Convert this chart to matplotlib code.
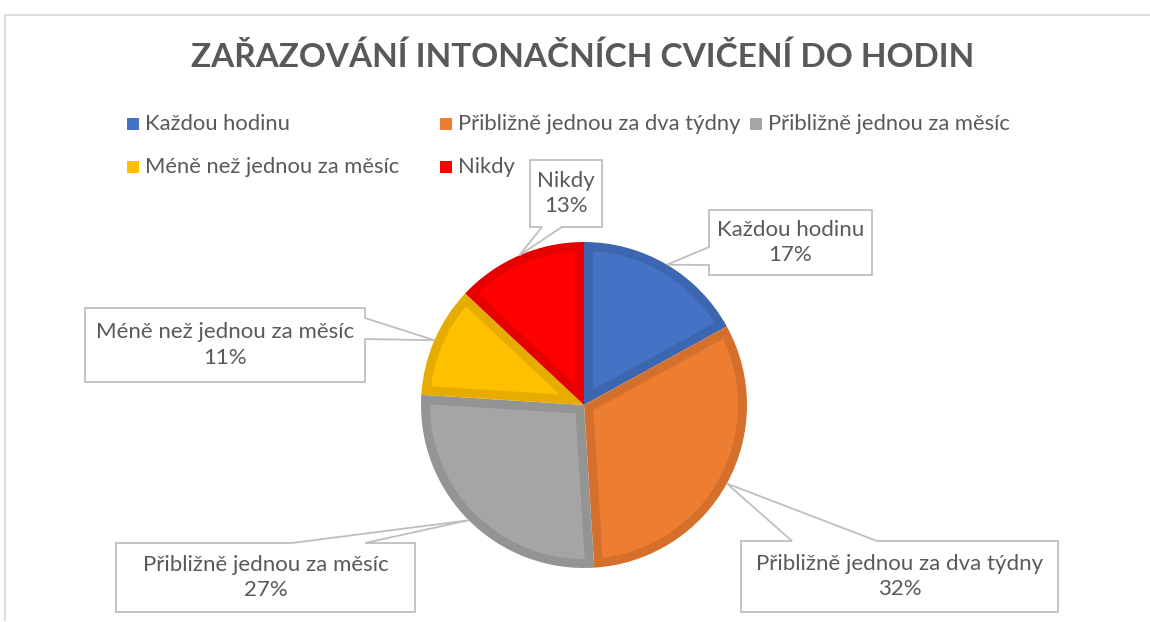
import matplotlib
matplotlib.use("Agg")
import matplotlib.pyplot as plt
from matplotlib.patches import Polygon, Rectangle
import numpy as np

W, H = 1150, 622

labels = ["Každou hodinu", "Přibližně jednou za dva týdny", "Přibližně jednou za měsíc",
          "Méně než jednou za měsíc", "Nikdy"]
values = [17, 32, 27, 11, 13]
colors = ["#4472C4", "#ED7D31", "#A5A5A5", "#FFC000", "#FF0000"]
edge_colors = ["#3D66B0", "#D4702C", "#949494", "#E6AC00", "#E60000"]
title = "ZAŘAZOVÁNÍ INTONAČNÍCH CVIČENÍ DO HODIN"

# layout in image pixels (y down)
pie_center = (584, 405)
pie_radius = 163
border = 9
legend_pos = [(127, 124), (440, 124), (750, 124), (127, 167), (440, 167)]
# box x0, y0, x1, y1, side of pointer, pointer base start, end
callouts = [
    (709, 210, 872, 275, "left", 247, 265),
    (741, 541, 1058, 612, "top", 792, 877),
    (116, 543, 415, 612, "top", 292, 365),
    (85, 308, 365, 382, "right", 318, 339),
    (530, 160, 602, 227, "bottom", 542, 562),
]

text_color = "#595959"
font = "Lato"


def px(x, y):
    return (x, H - y)


fig = plt.figure(figsize=(W / 100, H / 100), dpi=100)
ax = fig.add_axes([0, 0, 1, 1])

# outer pie in the darker edge colour, inset lighter fill on top
wedges, _ = ax.pie(values, colors=edge_colors, startangle=90, counterclock=False,
                   center=px(*pie_center), radius=pie_radius,
                   wedgeprops=dict(linewidth=0))

cx, cy = px(*pie_center)
for w, c in zip(wedges, colors):
    t1, t2 = np.deg2rad(w.theta1), np.deg2rad(w.theta2)
    half = (t2 - t1) / 2
    apex_d = border / np.sin(half)
    mid = (t1 + t2) / 2
    ri = pie_radius - border
    delta = np.arcsin(border / ri)
    arc = np.linspace(t1 + delta, t2 - delta, 80)
    pts = [(cx + apex_d * np.cos(mid), cy + apex_d * np.sin(mid))]
    pts += [(cx + ri * np.cos(a), cy + ri * np.sin(a)) for a in arc]
    ax.add_patch(Polygon(pts, closed=True, facecolor=c, edgecolor="none", zorder=2))

ax.set_xlim(0, W)
ax.set_ylim(0, H)
ax.set_aspect("equal")
ax.axis("off")

# chart frame
ax.plot([5, 5, W], [H - 620, H - 15, H - 15], color="#D9D9D9", lw=1.3, solid_joinstyle="miter")

ax.text(*px(583, 57), title, ha="center", va="center", fontsize=24, fontweight="bold",
        color=text_color, family=font)

for (lx, ly), lab, c in zip(legend_pos, labels, colors):
    ax.add_patch(Rectangle(px(lx, ly + 6), 12, 12, facecolor=c, edgecolor="none"))
    ax.text(*px(lx + 18, ly), lab, ha="left", va="center", fontsize=15.8,
            color=text_color, family=font)

for w, lab, v, (x0, y0, x1, y1, side, b0, b1) in zip(wedges, labels, values, callouts):
    mid = np.deg2rad((w.theta1 + w.theta2) / 2)
    tx, ty = cx + pie_radius * np.cos(mid), cy + pie_radius * np.sin(mid)
    tip = (tx, H - ty)
    TL, TR, BR, BL = (x0, y0), (x1, y0), (x1, y1), (x0, y1)
    if side == "top":
        pts = [TL, (b0, y0), tip, (b1, y0), TR, BR, BL]
    elif side == "right":
        pts = [TL, TR, (x1, b0), tip, (x1, b1), BR, BL]
    elif side == "bottom":
        pts = [TL, TR, BR, (b1, y1), tip, (b0, y1), BL]
    else:
        pts = [TL, TR, BR, BL, (x0, b1), tip, (x0, b0)]
    ax.add_patch(Polygon([px(*p) for p in pts], closed=True, facecolor="white",
                         edgecolor="#BFBFBF", lw=1.3, joinstyle="miter", zorder=3))
    ax.text(*px((x0 + x1) / 2, (y0 + y1) / 2), f"{lab}\n{v}%", ha="center", va="center",
            fontsize=16, color=text_color, family=font, linespacing=1.35, zorder=4)

fig.savefig("out.png", dpi=100, facecolor="white")
